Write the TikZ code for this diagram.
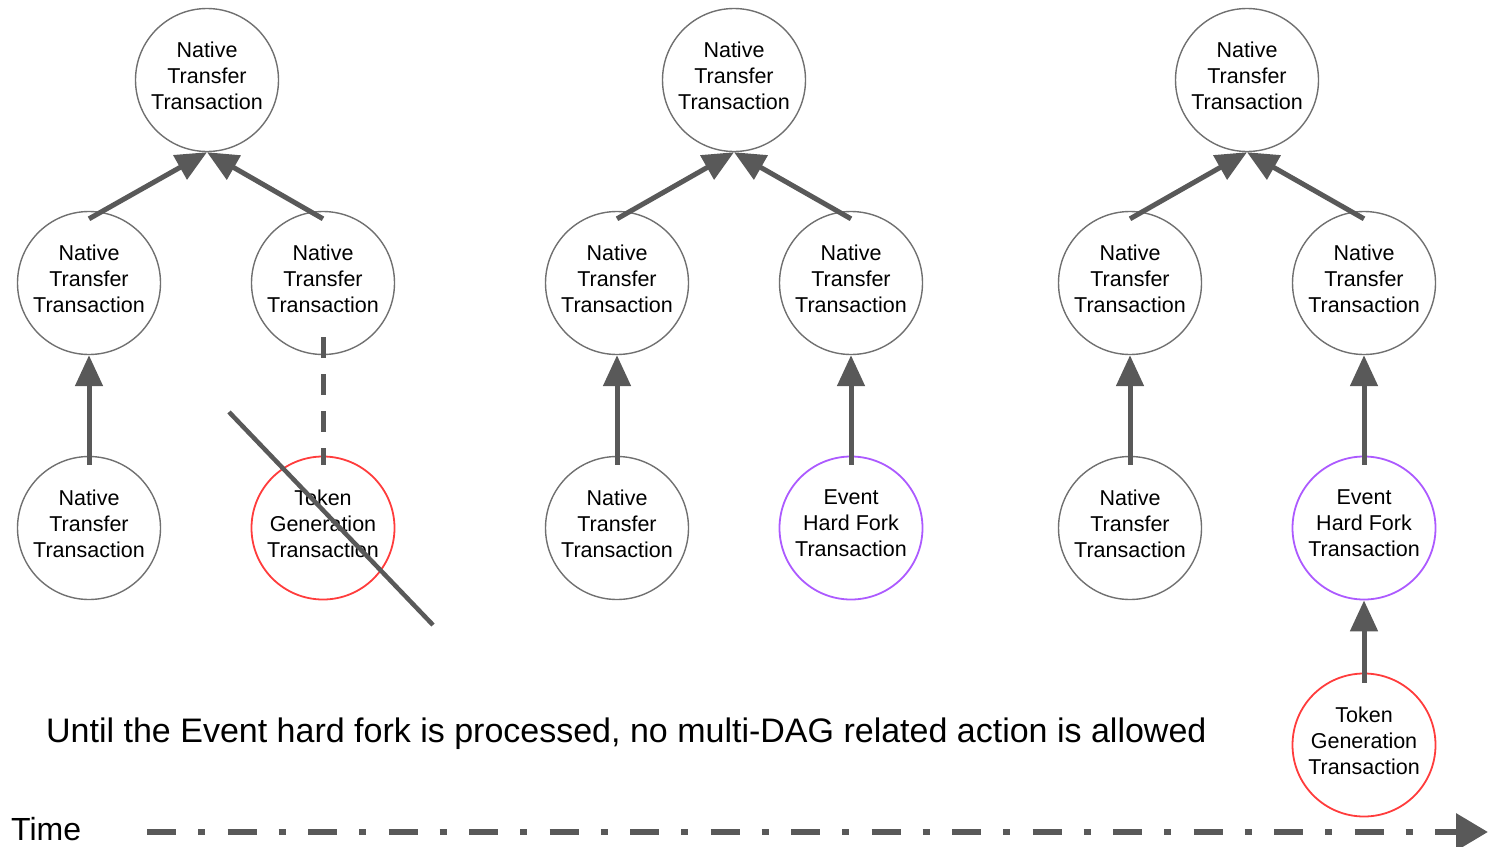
\documentclass[tikz,border=0pt]{standalone}
\usepackage{fontspec}
\setmainfont{Liberation Sans}
\usetikzlibrary{arrows.meta,calc}

\definecolor{ringgray}{RGB}{112,112,112}
\definecolor{linkgray}{RGB}{89,89,89}
\definecolor{tokenred}{RGB}{255,60,60}
\definecolor{forkpurple}{RGB}{172,90,255}

\begin{document}
\begin{tikzpicture}[x=1pt,y=-1pt,
  txn/.style={circle, draw=ringgray, line width=1.4pt, minimum size=143pt,
    inner sep=0pt, align=center, text depth=9pt,
    font=\fontsize{21.5}{26}\selectfont, text=black},
  tokentxn/.style={txn, draw=tokenred, line width=1.8pt},
  forktxn/.style={txn, draw=forkpurple, line width=1.8pt},
  link/.style={draw=linkgray, line width=5pt,
    -{Triangle[length=31pt,width=27pt]}},
  pending/.style={draw=linkgray, line width=5pt, dash pattern=on 21pt off 16pt},
  strike/.style={draw=linkgray, line width=4.5pt},
  timeline/.style={draw=linkgray, line width=6.5pt,
    dash pattern=on 29pt off 22pt on 7pt off 22.5pt,
    -{Triangle[length=32pt,width=36pt]}},
]
\useasboundingbox (0,0) rectangle (1488,846);

% first snapshot: token generation attempted before the fork
\node[txn] (a0) at (207,80) {Native\\Transfer\\Transaction};
\node[txn] (a1) at (89,283) {Native\\Transfer\\Transaction};
\node[txn] (a2) at (323,283) {Native\\Transfer\\Transaction};
\node[txn] (a3) at (89,528) {Native\\Transfer\\Transaction};
\node[tokentxn] (a4) at (323,528) {Token\\Generation\\Transaction};

% second snapshot: hard fork event
\node[txn] (b0) at (734,80) {Native\\Transfer\\Transaction};
\node[txn] (b1) at (617,283) {Native\\Transfer\\Transaction};
\node[txn] (b2) at (851,283) {Native\\Transfer\\Transaction};
\node[txn] (b3) at (617,528) {Native\\Transfer\\Transaction};
\node[forktxn] (b4) at (851,528) {Event\\Hard Fork\\Transaction};

% third snapshot: token generation after the fork
\node[txn] (c0) at (1247,80) {Native\\Transfer\\Transaction};
\node[txn] (c1) at (1130,283) {Native\\Transfer\\Transaction};
\node[txn] (c2) at (1364,283) {Native\\Transfer\\Transaction};
\node[txn] (c3) at (1130,528) {Native\\Transfer\\Transaction};
\node[forktxn] (c4) at (1364,528) {Event\\Hard Fork\\Transaction};
\node[tokentxn] (c5) at (1364,745) {Token\\Generation\\Transaction};

% references between transactions
\foreach \s in {a,b,c}{
  \draw[link] ($(\s1.north)+(0,8)$) -- (\s0.south);
  \draw[link] ($(\s2.north)+(0,8)$) -- (\s0.south);
  \draw[link] ($(\s3.north)+(0,9)$) -- (\s1.south);
}
\draw[link] ($(b4.north)+(0,9)$) -- (b2.south);
\draw[link] ($(c4.north)+(0,9)$) -- (c2.south);
\draw[link] ($(c5.north)+(0,10)$) -- (c4.south);

% rejected reference
\draw[pending] ($(a2.south)+(0,-18)$) -- ($(a4.north)+(0,9)$);
\coordinate (s1) at (229,412);
\coordinate (s2) at (433,625);
\draw[strike] (s1) -- (s2);

% caption and time axis
\node[anchor=base west, inner sep=0pt, font=\fontsize{34}{40}\selectfont]
  (note) at (46,742) {Until the Event hard fork is processed, no multi-DAG related action is allowed};
\node[anchor=base west, inner sep=0pt, font=\fontsize{32}{38}\selectfont]
  (time) at (11,840) {Time};
\coordinate (t0) at (147,832);
\coordinate (t1) at (1488,832);
\draw[timeline] (t0) -- (t1);
\end{tikzpicture}
\end{document}
